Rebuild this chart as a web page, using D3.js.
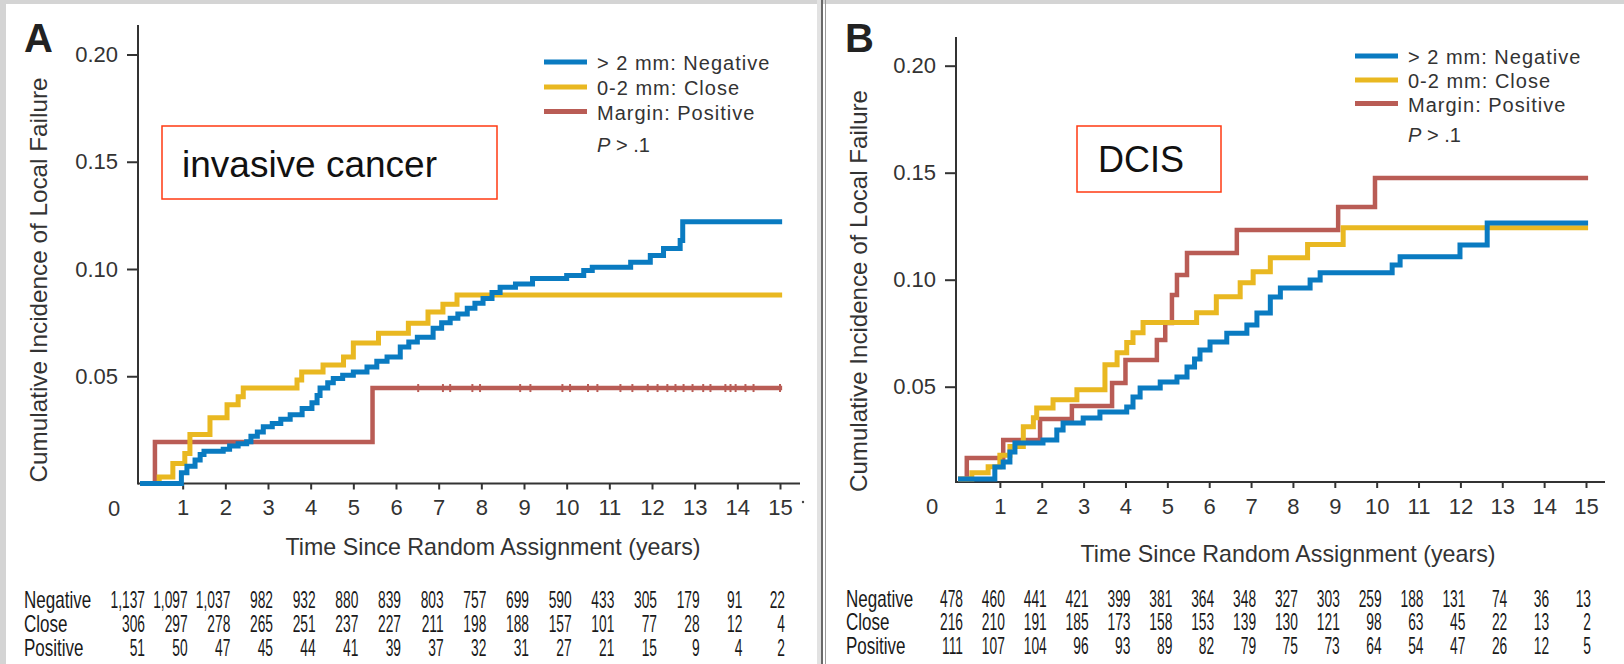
<!DOCTYPE html>
<html>
<head>
<meta charset="utf-8">
<script src="https://cdn.jsdelivr.net/npm/d3@7"></script>
<style>
  body { margin: 0; background: #fff; }
  svg text { font-family: "Liberation Sans", Arial, Helvetica, sans-serif; }
</style>
</head>
<body>
<div class="plot_canvas"></div>
<script>
// ---- data ----
var seriesNames = ["> 2 mm: Negative", "0-2 mm: Close", "Margin: Positive"];
var rowLabels = ["Negative", "Close", "Positive"];
var xTicks = [1, 2, 3, 4, 5, 6, 7, 8, 9, 10, 11, 12, 13, 14, 15];
var yTicks = [0.05, 0.10, 0.15, 0.20];
var riskYears = [0, 1, 2, 3, 4, 5, 6, 7, 8, 9, 10, 11, 12, 13, 14, 15];

// panel A: invasive cancer  [years, cumulative incidence]
var negA = [[0,0],[0.94,0],[0.97,0.005],[1.1,0.008],[1.29,0.011],[1.41,0.0135],[1.5,0.015],[1.95,0.016],[2.1,0.0175],[2.3,0.0185],[2.5,0.0195],[2.6,0.022],[2.75,0.024],[2.89,0.0265],[3.1,0.028],[3.3,0.03],[3.52,0.032],[3.8,0.035],[4.03,0.0376],[4.15,0.041],[4.22,0.0445],[4.4,0.047],[4.53,0.049],[4.75,0.0505],[5.0,0.052],[5.32,0.0543],[5.55,0.057],[5.79,0.059],[6.1,0.0636],[6.3,0.066],[6.5,0.0682],[6.87,0.0724],[7.07,0.075],[7.27,0.077],[7.45,0.079],[7.67,0.0817],[7.85,0.084],[8.04,0.0863],[8.25,0.089],[8.44,0.0915],[8.8,0.093],[9.2,0.0956],[10.0,0.097],[10.4,0.0993],[10.6,0.1008],[11.5,0.1031],[11.96,0.1063],[12.27,0.1096],[12.66,0.1133],[12.72,0.122],[15.05,0.122]];
var closeA = [[0,0],[0.45,0.003],[0.77,0.0093],[1.05,0.014],[1.17,0.0228],[1.64,0.0306],[2.04,0.0367],[2.3,0.0404],[2.42,0.0445],[3.68,0.0483],[3.79,0.052],[4.29,0.0552],[4.77,0.059],[5.0,0.0655],[5.59,0.070],[6.29,0.0747],[6.75,0.080],[7.1,0.0836],[7.43,0.0879],[15.05,0.0879]];
var posA = [[0,0],[0.35,0.0193],[5.45,0.0445],[15.05,0.0445]];
var posACensor = [6.52,7.1,7.27,7.79,7.97,8.91,9.15,9.9,10.08,10.5,10.72,11.26,11.54,11.9,12.13,12.36,12.55,12.74,12.95,13.2,13.37,13.72,13.84,13.96,14.19,14.38,15.0];

// panel B: DCIS
var negB = [[0,0.0069],[0.76,0.0069],[0.88,0.0125],[1.08,0.0148],[1.24,0.0195],[1.36,0.0237],[2.03,0.0251],[2.36,0.0298],[2.51,0.033],[2.99,0.0354],[3.39,0.0382],[4.03,0.0405],[4.18,0.0452],[4.35,0.0494],[4.83,0.0522],[5.23,0.0545],[5.47,0.0592],[5.65,0.063],[5.78,0.0672],[6.02,0.0709],[6.42,0.075],[6.9,0.0788],[7.14,0.0844],[7.46,0.0919],[7.7,0.0961],[8.41,0.0999],[8.65,0.1032],[10.37,0.1069],[10.56,0.1107],[11.99,0.1162],[12.64,0.1265],[15.05,0.1265]];
var closeB = [[0,0.0069],[0.33,0.0098],[0.72,0.0126],[1.0,0.018],[1.24,0.022],[1.56,0.0313],[1.8,0.0355],[1.88,0.040],[2.27,0.0439],[2.84,0.0486],[3.51,0.0603],[3.8,0.0659],[4.03,0.0706],[4.18,0.0752],[4.42,0.080],[5.7,0.0845],[6.17,0.092],[6.74,0.0986],[7.05,0.1037],[7.46,0.1103],[8.35,0.1164],[9.2,0.1243],[15.05,0.1243]];
var posB = [[0,0.0069],[0.21,0.0167],[1.08,0.0251],[1.96,0.0349],[2.72,0.041],[3.68,0.0517],[4.0,0.0625],[4.75,0.0718],[4.95,0.0798],[5.11,0.0929],[5.23,0.1022],[5.47,0.1125],[6.66,0.1232],[9.08,0.134],[9.96,0.1475],[15.05,0.1475]];

// numbers at risk
var riskANeg = [1137,1097,1037,982,932,880,839,803,757,699,590,433,305,179,91,22];
var riskAClose = [306,297,278,265,251,237,227,211,198,188,157,101,77,28,12,4];
var riskAPos = [51,50,47,45,44,41,39,37,32,31,27,21,15,9,4,2];
var riskBNeg = [478,460,441,421,399,381,364,348,327,303,259,188,131,74,36,13];
var riskBClose = [216,210,191,185,173,158,153,139,130,121,98,63,45,22,13,2];
var riskBPos = [111,107,104,96,93,89,82,79,75,73,64,54,47,26,12,5];

var colors = ["#0a7bc1", "#e9b821", "#b95c55"];
var textColor = "#333";

var width = 1624, height = 664;

var svg = d3.select(".plot_canvas")
  .append("svg")
  .attr("width", width)
  .attr("height", height);

svg.append("rect").attr("width", width).attr("height", height).attr("fill", "#fff");

// grey page frame + divider between panels
svg.append("rect").attr("x", 0).attr("y", 0).attr("width", width).attr("height", 4).attr("fill", "#d4d4d4");
svg.append("rect").attr("x", 0).attr("y", 0).attr("width", 6).attr("height", height).attr("fill", "#d4d4d4");
svg.append("rect").attr("x", 817).attr("y", 0).attr("width", 4).attr("height", height).attr("fill", "#e2e2e2");
svg.append("line").attr("x1", 822).attr("x2", 822).attr("y1", 0).attr("y2", height)
  .attr("stroke", "#6a6a6a").attr("stroke-width", 2);
svg.append("line").attr("x1", 825.5).attr("x2", 825.5).attr("y1", 0).attr("y2", height)
  .attr("stroke", "#9a9a9a").attr("stroke-width", 1);

var fmt = d3.format(",");

function drawPanel(p) {
  var g = svg.append("g");

  var xs = d3.scaleLinear().domain([0, 15]).range([p.xLeft, p.xRight]);
  var ys = d3.scaleLinear().domain([0, 0.20]).range([p.yZero, p.yTop]);

  // panel letter
  g.append("text")
    .attr("x", p.letterX).attr("y", 52)
    .attr("font-size", "40px").attr("font-weight", "bold")
    .attr("fill", "#222")
    .text(p.letter);

  // y axis
  var yAxis = d3.axisLeft(ys)
    .tickValues(yTicks)
    .tickSize(11)
    .tickPadding(9)
    .tickFormat(d3.format(".2f"));

  var yg = g.append("g")
    .attr("transform", "translate(" + p.axisX + ",0)")
    .call(yAxis);
  yg.select(".domain").remove();
  yg.selectAll("line").attr("stroke", textColor).attr("stroke-width", 2);
  yg.selectAll("text").attr("font-size", "22px").attr("fill", textColor)
    .attr("font-family", "'Liberation Sans', Arial, sans-serif");

  g.append("line")
    .attr("x1", p.axisX).attr("x2", p.axisX)
    .attr("y1", p.axisTop).attr("y2", p.axisY + 1)
    .attr("stroke", textColor).attr("stroke-width", 2);

  // x axis
  var xAxis = d3.axisBottom(xs)
    .tickValues(xTicks)
    .tickSize(6)
    .tickPadding(10);

  var xg = g.append("g")
    .attr("transform", "translate(0," + p.axisY + ")")
    .call(xAxis);
  xg.select(".domain").remove();
  xg.selectAll("line").attr("stroke", textColor).attr("stroke-width", 2);
  xg.selectAll("text").attr("font-size", "22px").attr("fill", textColor)
    .attr("font-family", "'Liberation Sans', Arial, sans-serif");

  g.append("line")
    .attr("x1", p.axisX).attr("x2", p.axisRight)
    .attr("y1", p.axisY).attr("y2", p.axisY)
    .attr("stroke", textColor).attr("stroke-width", 2);

  // origin label
  g.append("text")
    .attr("x", xs(0) - 26).attr("y", p.axisY + 32)
    .attr("text-anchor", "middle")
    .attr("font-size", "22px").attr("fill", textColor)
    .text("0");

  // axis titles
  g.append("text")
    .attr("transform", "translate(" + p.yTitleX + "," + p.yTitleY + ") rotate(-90)")
    .attr("text-anchor", "middle")
    .attr("font-size", "24px").attr("fill", textColor)
    .attr("textLength", p.yTitleLen).attr("lengthAdjust", "spacingAndGlyphs")
    .text("Cumulative Incidence of Local Failure");

  g.append("text")
    .attr("x", p.xTitleX).attr("y", p.xTitleY)
    .attr("text-anchor", "middle")
    .attr("font-size", "24px").attr("fill", textColor)
    .attr("textLength", 415).attr("lengthAdjust", "spacingAndGlyphs")
    .text("Time Since Random Assignment (years)");

  // curves
  var line = d3.line()
    .x(function(d) { return xs(d[0]); })
    .y(function(d) { return ys(d[1]); })
    .curve(d3.curveStepAfter);

  var order = [2, 1, 0];
  order.forEach(function(k) {
    g.append("path")
      .attr("d", line(p.series[k]))
      .attr("fill", "none")
      .attr("stroke", colors[k])
      .attr("stroke-width", k == 2 ? 4.5 : 5);
  });

  if (p.censor) {
    g.selectAll(".censor")
      .data(p.censor.times).enter()
      .append("line")
      .attr("x1", function(d) { return xs(d); })
      .attr("x2", function(d) { return xs(d); })
      .attr("y1", ys(p.censor.level) - 4)
      .attr("y2", ys(p.censor.level) + 4)
      .attr("stroke", colors[p.censor.k])
      .attr("stroke-width", 2);
  }

  // label box
  g.append("rect")
    .attr("x", p.box[0]).attr("y", p.box[1])
    .attr("width", p.box[2]).attr("height", p.box[3])
    .attr("fill", "none").attr("stroke", "#ff3a12").attr("stroke-width", 1.5);
  g.append("text")
    .attr("x", p.boxText[0]).attr("y", p.boxText[1])
    .attr("font-size", p.boxFont).attr("fill", "#111")
    .text(p.label);

  // legend
  var leg = g.append("g");
  seriesNames.forEach(function(name, i) {
    leg.append("line")
      .attr("x1", p.legX).attr("x2", p.legX + 43)
      .attr("y1", p.legY[i]).attr("y2", p.legY[i])
      .attr("stroke", colors[i]).attr("stroke-width", 5);
    leg.append("text")
      .attr("x", p.legX + 53).attr("y", p.legY[i] + 8)
      .attr("font-size", "20px").attr("letter-spacing", "1px")
      .attr("fill", textColor)
      .text(name);
  });
  var pt = leg.append("text")
    .attr("x", p.legX + 53).attr("y", p.pY)
    .attr("font-size", "20px").attr("fill", textColor);
  pt.append("tspan").attr("font-style", "italic").text("P");
  pt.append("tspan").text(" > .1");

  // numbers at risk (condensed face imitated by a horizontal squeeze)
  var tbl = g.append("g");
  p.risk.forEach(function(row, r) {
    var ty = p.tableY[r];
    tbl.append("text")
      .attr("transform", "translate(" + p.tableLabelX + "," + ty + ") scale(0.74,1)")
      .attr("font-size", "23px").attr("fill", "#1a1a1a")
      .text(rowLabels[r]);
    tbl.selectAll(".n" + r)
      .data(row).enter()
      .append("text")
      .attr("transform", function(d, i) {
        return "translate(" + (xs(riskYears[i]) + 5) + "," + ty + ") scale(0.6,1)";
      })
      .attr("text-anchor", "end")
      .attr("font-size", "23px").attr("fill", "#1a1a1a")
      .text(function(d) { return fmt(d); });
  });

  return xs;
}

drawPanel({
  letter: "A", letterX: 24,
  xLeft: 140, xRight: 780, yZero: 483.5, yTop: 54.5,
  axisX: 138, axisTop: 25, axisY: 483.5, axisRight: 800,
  yTitleX: 47, yTitleY: 280, yTitleLen: 405,
  xTitleX: 493, xTitleY: 555,
  series: [negA, closeA, posA],
  censor: { times: posACensor, level: 0.0445, k: 2 },
  box: [162, 126, 335, 73], boxText: [182, 177], boxFont: "37px", label: "invasive cancer",
  legX: 544, legY: [62, 87, 111.5], pY: 152,
  risk: [riskANeg, riskAClose, riskAPos],
  tableLabelX: 24, tableY: [608, 632, 656]
});

drawPanel({
  letter: "B", letterX: 845,
  xLeft: 958, xRight: 1586, yZero: 493.7, yTop: 65.7,
  axisX: 956, axisTop: 37, axisY: 482, axisRight: 1605,
  yTitleX: 867, yTitleY: 291, yTitleLen: 402,
  xTitleX: 1288, xTitleY: 562,
  series: [negB, closeB, posB],
  censor: null,
  box: [1077, 126, 144, 66], boxText: [1098, 172], boxFont: "36px", label: "DCIS",
  legX: 1355, legY: [56, 80, 103.5], pY: 142,
  risk: [riskBNeg, riskBClose, riskBPos],
  tableLabelX: 846, tableY: [607, 630, 654]
});

// stray dot right of the last tick in panel A
svg.append("circle").attr("cx", 803).attr("cy", 502).attr("r", 1.2).attr("fill", "#444");
</script>
</body>
</html>
